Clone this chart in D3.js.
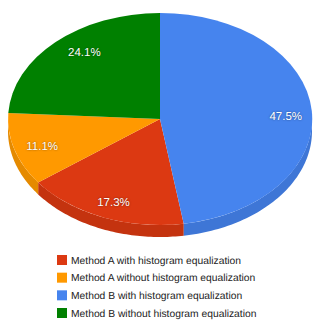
<!DOCTYPE html>
<html><head><meta charset="utf-8">
<script src="https://cdnjs.cloudflare.com/ajax/libs/d3/7.8.5/d3.min.js"></script>
<style>
html,body{margin:0;padding:0;background:#fff}
svg{display:block}
text{font-family:"Liberation Sans",Arial,sans-serif;text-rendering:geometricPrecision}
</style></head><body>
<script>
const categories=["Method A with histogram equalization","Method A without histogram equalization","Method B with histogram equalization","Method B without histogram equalization"];
const values=[17.3,11.1,47.5,24.1];
const colors=["#DC3912","#FF9900","#4684EE","#008000"];
const rimColors=["#C4330F","#E58A00","#3E76D6","#007000"];
const sliceOrder=[2,0,1,3];

const W=320,H=334,cx=160,cy=119,rx=152,ry=106,depth=12;
const labelNudge={0:[1,1],1:[3,2],2:[0,4],3:[11,-3]};

const svg=d3.select("body").append("svg").attr("width",W).attr("height",H);
const pie=d3.pie().sort((a,b)=>sliceOrder.indexOf(a)-sliceOrder.indexOf(b)).value(i=>values[i]);
const slices=pie(d3.range(values.length));
const xs=d3.scaleLinear().domain([-1,1]).range([cx-rx,cx+rx]);
const ys=d3.scaleLinear().domain([-1,1]).range([cy-ry,cy+ry]);
const px=a=>xs(Math.sin(a)), py=a=>ys(-Math.cos(a));

// rim
const rimG=svg.append("g");
slices.forEach(s=>{
  const a0=Math.max(s.startAngle,Math.PI/2), a1=Math.min(s.endAngle,Math.PI*1.5);
  if(a1<=a0) return;
  const steps=d3.range(0,61).map(k=>a0+(a1-a0)*k/60);
  const pts=steps.map(a=>[px(a),py(a)]).concat(steps.slice().reverse().map(a=>[px(a),py(a)+depth]));
  rimG.append("path").attr("d",d3.line()(pts)+"Z").attr("fill",rimColors[s.data]);
});
// top
const arc=d3.arc().innerRadius(0).outerRadius(1);
const topG=svg.append("g").attr("transform",`translate(${cx},${cy}) scale(${rx},${ry})`);
topG.selectAll("path").data(slices).join("path").attr("d",arc).attr("fill",d=>colors[d.data]);
// labels
const labelArc=d3.arc().innerRadius(0.83).outerRadius(0.83);
svg.append("g").selectAll("text").data(slices).join("text")
  .attr("x",d=>cx+labelArc.centroid(d)[0]*rx+labelNudge[d.data][0])
  .attr("y",d=>cy+labelArc.centroid(d)[1]*ry+labelNudge[d.data][1])
  .attr("dy","0.36em").attr("text-anchor","middle")
  .attr("font-size",11.5).attr("fill","#fff")
  .style("text-shadow","0 0 2px rgba(0,0,0,0.5)")
  .text(d=>d3.format(".1f")(values[d.data])+"%");
// legend
const ly=d3.scalePoint().domain(d3.range(categories.length)).range([260,313]);
const lg=svg.append("g").selectAll("g").data(d3.range(categories.length)).join("g")
  .attr("transform",i=>`translate(57,${ly(i)})`);
lg.append("rect").attr("x",0).attr("y",-5).attr("width",10).attr("height",10).attr("fill",i=>colors[i]);
lg.append("text").attr("x",14).attr("dy","0.36em").attr("font-size",10.3).attr("fill","#222").text(i=>categories[i]);
</script>
</body></html>
